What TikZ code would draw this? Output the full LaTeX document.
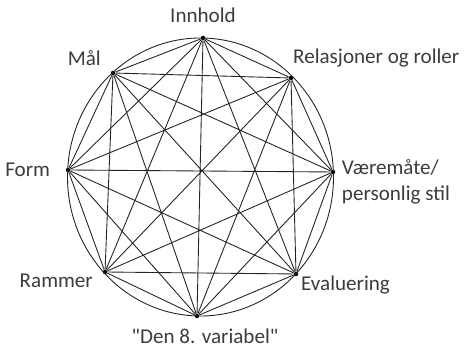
\documentclass[tikz,border=0pt]{standalone}
\usepackage{fontspec}
\setmainfont{Carlito}
\usetikzlibrary{positioning}
\definecolor{StrekGraa}{RGB}{35,35,35}
\definecolor{TekstGraa}{RGB}{60,60,60}
\tikzset{
  punkt/.style={circle, fill=black, inner sep=0pt, minimum size=0.9mm},
  strek/.style={draw=StrekGraa, line width=0.5pt},
  etikett/.style={font=\fontsize{12}{14.5}\selectfont, text=TekstGraa, inner sep=0pt, align=left},
}
\begin{document}
\begin{tikzpicture}[x=0.2mm, y=0.2mm]
  \useasboundingbox (0,0) rectangle (465,350);

  % --- Punktene rundt sirkelen ---------------------------------------------
  \node[punkt] (innhold)    at (203,312) {};
  \node[punkt] (relasjoner) at (291,272) {};
  \node[punkt] (vaeremaate) at (333,178) {};
  \node[punkt] (evaluering) at (296,76)  {};
  \node[punkt] (den8)       at (197,34)  {};
  \node[punkt] (rammer)     at (105,78)  {};
  \node[punkt] (form)       at (68,180)  {};
  \node[punkt] (maal)       at (113,277) {};

  % --- Sirkelen ------------------------------------------------------------
  \draw[strek] (200.5,173) ellipse [x radius=26.6mm, y radius=27.8mm];

  % --- Alle forbindelser ---------------------------------------------------
  % naboer
  \draw[strek] (innhold) -- (relasjoner) -- (vaeremaate) -- (evaluering) -- (den8) -- (rammer) -- (form) -- (maal) -- (innhold);
  % to kvadrater
  \draw[strek] (innhold) -- (vaeremaate) -- (den8) -- (form) -- (innhold);
  \draw[strek] (relasjoner) -- (evaluering) -- (rammer) -- (maal) -- (relasjoner);
  % stjernen
  \draw[strek] (innhold) -- (evaluering) -- (form) -- (relasjoner) -- (den8) -- (maal) -- (vaeremaate) -- (rammer) -- (innhold);
  % diametre
  \draw[strek] (innhold) -- (den8) (relasjoner) -- (rammer) (vaeremaate) -- (form) (evaluering) -- (maal);

  % --- Etiketter -----------------------------------------------------------
  \node[etikett, above=2.4mm of innhold] (lab-innhold) {Innhold};
  \node[etikett, above right=1.8mm and 0mm of relasjoner] (lab-relasjoner) {Relasjoner og roller};
  \node[etikett, right=1.2mm of vaeremaate, yshift=-2mm] (lab-vaeremaate) {Væremåte/\\personlig stil};
  \node[etikett, below right=0mm and 0.6mm of evaluering] (lab-evaluering) {Evaluering};
  \node[etikett, below=2mm of den8, xshift=1.6mm] (lab-den8) {\textquotedbl Den 8. variabel\textquotedbl};
  \node[etikett, below left=0mm and 2mm of rammer] (lab-rammer) {Rammer};
  \node[etikett, left=3mm of form] (lab-form) {Form};
  \node[etikett, above left=1mm and 2mm of maal] (lab-maal) {Mål};
\end{tikzpicture}
\end{document}
